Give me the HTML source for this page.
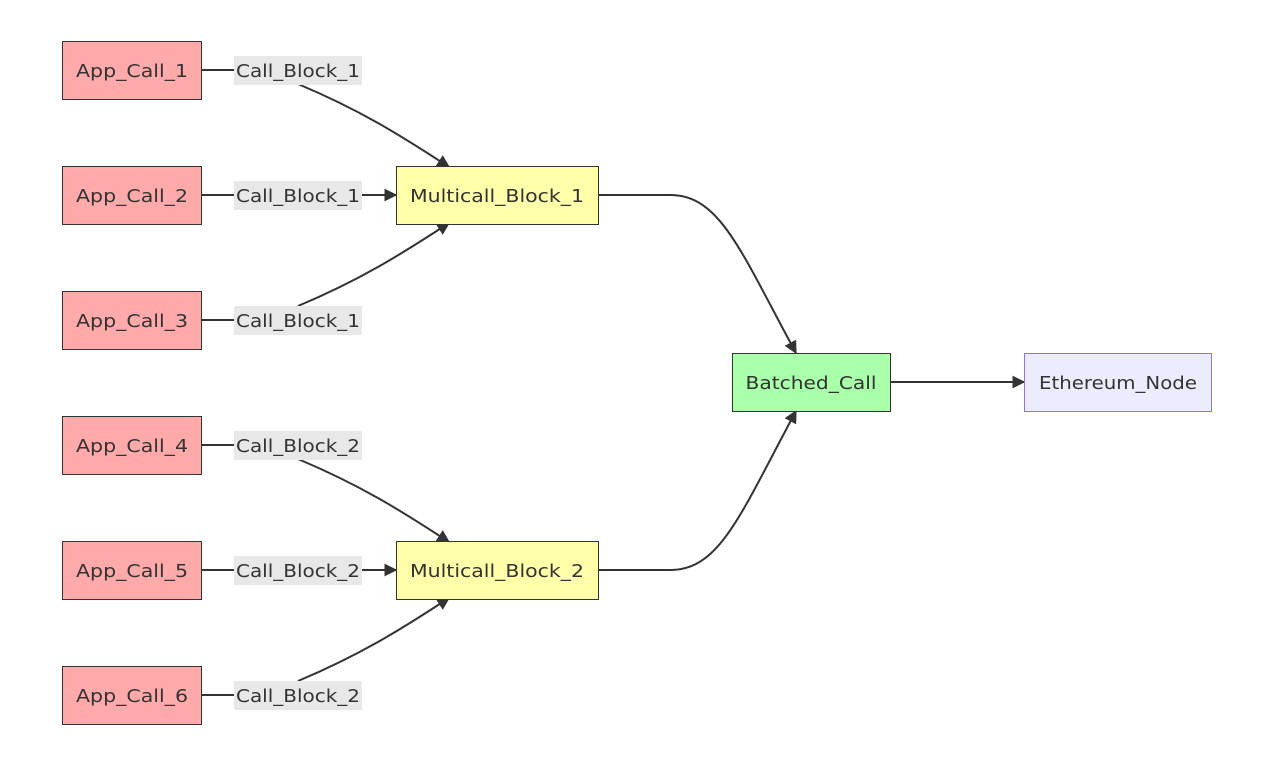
<!DOCTYPE html>
<html><head><meta charset="utf-8"><style>
html,body{margin:0;padding:0;background:#fff;width:1280px;height:772px;overflow:hidden}
text{font-family:"DejaVu Sans","Liberation Sans",sans-serif;font-size:18px;fill:#333}
</style></head><body>
<svg width="1280" height="772" xmlns="http://www.w3.org/2000/svg">
<defs><marker id="a" viewBox="0 0 10 10" refX="9" refY="5" markerWidth="13" markerHeight="13" orient="auto-start-reverse" markerUnits="userSpaceOnUse"><path d="M0,0L10,5L0,10z" fill="#333"/></marker></defs>
<g fill="none" stroke="#333" stroke-width="2">
<path d="M201,70H236"/><path d="M298,84C360,110 400,135 449,167" marker-end="url(#a)"/>
<path d="M201,195H236"/><path d="M362,195H396" marker-end="url(#a)"/>
<path d="M201,320H236"/><path d="M298,306C360,280 400,255 449,223" marker-end="url(#a)"/>
<path d="M201,445H236"/><path d="M298,459C360,485 400,510 449,542" marker-end="url(#a)"/>
<path d="M201,570H236"/><path d="M362,570H396" marker-end="url(#a)"/>
<path d="M201,695H236"/><path d="M298,681C360,655 400,630 449,598" marker-end="url(#a)"/>
<path d="M598,195H670C720,195 740,250 796,353" marker-end="url(#a)"/>
<path d="M598,570H670C720,570 740,515 796,411" marker-end="url(#a)"/>
<path d="M890,382H1024" marker-end="url(#a)"/>
</g>
<g stroke="#333" stroke-width="1">
<rect x="62.5" y="41.5" width="139" height="58" fill="#ffaaaa"/>
<rect x="62.5" y="166.5" width="139" height="58" fill="#ffaaaa"/>
<rect x="62.5" y="291.5" width="139" height="58" fill="#ffaaaa"/>
<rect x="62.5" y="416.5" width="139" height="58" fill="#ffaaaa"/>
<rect x="62.5" y="541.5" width="139" height="58" fill="#ffaaaa"/>
<rect x="62.5" y="666.5" width="139" height="58" fill="#ffaaaa"/>
<rect x="396.5" y="166.5" width="202" height="58" fill="#ffffaa"/>
<rect x="396.5" y="541.5" width="202" height="58" fill="#ffffaa"/>
<rect x="732.5" y="353.5" width="158" height="58" fill="#aaffaa"/>
<rect x="1024.5" y="353.5" width="187" height="58" fill="#ececff" stroke="#9370db"/>
</g>
<g fill="#e8e8e8">
<rect x="234" y="56" width="128" height="29"/><rect x="234" y="181" width="128" height="29"/><rect x="234" y="306" width="128" height="29"/>
<rect x="234" y="431" width="128" height="29"/><rect x="234" y="556" width="128" height="29"/><rect x="234" y="681" width="128" height="29"/>
</g>
<g text-anchor="middle" lengthAdjust="spacingAndGlyphs">
<text x="132" y="77" textLength="112" lengthAdjust="spacingAndGlyphs">App_Call_1</text><text x="132" y="202" textLength="112" lengthAdjust="spacingAndGlyphs">App_Call_2</text><text x="132" y="327" textLength="112" lengthAdjust="spacingAndGlyphs">App_Call_3</text>
<text x="132" y="452" textLength="112" lengthAdjust="spacingAndGlyphs">App_Call_4</text><text x="132" y="577" textLength="112" lengthAdjust="spacingAndGlyphs">App_Call_5</text><text x="132" y="702" textLength="112" lengthAdjust="spacingAndGlyphs">App_Call_6</text>
<text x="298" y="77" textLength="124" lengthAdjust="spacingAndGlyphs">Call_Block_1</text><text x="298" y="202" textLength="124" lengthAdjust="spacingAndGlyphs">Call_Block_1</text><text x="298" y="327" textLength="124" lengthAdjust="spacingAndGlyphs">Call_Block_1</text>
<text x="298" y="452" textLength="124" lengthAdjust="spacingAndGlyphs">Call_Block_2</text><text x="298" y="577" textLength="124" lengthAdjust="spacingAndGlyphs">Call_Block_2</text><text x="298" y="702" textLength="124" lengthAdjust="spacingAndGlyphs">Call_Block_2</text>
<text x="497" y="202" textLength="174" lengthAdjust="spacingAndGlyphs">Multicall_Block_1</text><text x="497" y="577" textLength="174" lengthAdjust="spacingAndGlyphs">Multicall_Block_2</text>
<text x="811" y="389" textLength="131" lengthAdjust="spacingAndGlyphs">Batched_Call</text><text x="1118" y="389" textLength="158" lengthAdjust="spacingAndGlyphs">Ethereum_Node</text>
</g>
</svg>
</body></html>
